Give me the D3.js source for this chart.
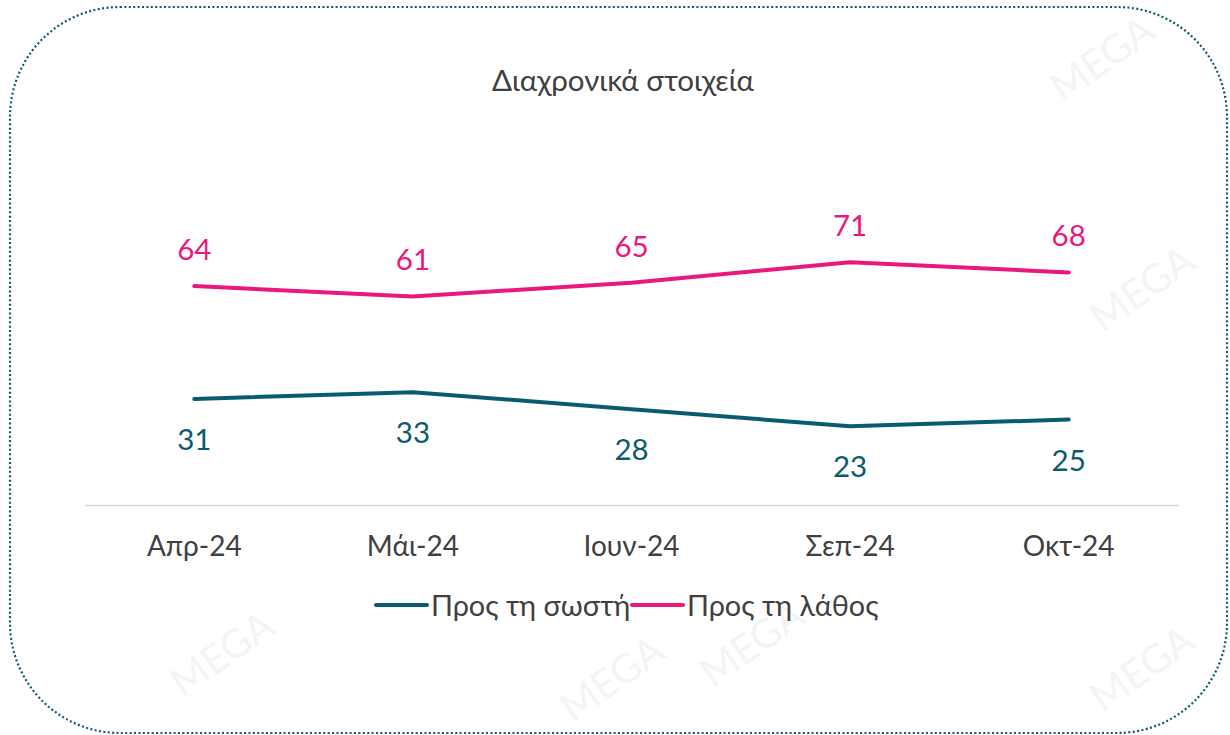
<!DOCTYPE html>
<html><head><meta charset="utf-8">
<script src="https://cdn.jsdelivr.net/npm/d3@7"></script>
<style>body{margin:0;background:#fff}svg{display:block}</style>
</head><body><svg id="c" width="1230" height="735"></svg>
<script>
const categories = ["Απρ-24","Μάι-24","Ιουν-24","Σεπ-24","Οκτ-24"];
const seriesNames = ["Προς τη σωστή","Προς τη λάθος"];
const correctValues = [31,33,28,23,25];
const wrongValues = [64,61,65,71,68];
const title = "Διαχρονικά στοιχεία";
const colors = ["#0B5B70","#E8187D"];

const svg = d3.select("#c");
const font = "Lato, 'Open Sans', sans-serif";

// faint watermarks
const wm = [[1110,70],[1150,300],[230,665],[620,690],[1150,680],[760,655]];
svg.append("g").selectAll("text").data(wm).join("text")
  .attr("transform", d=>`translate(${d[0]},${d[1]}) rotate(-35)`)
  .attr("text-anchor","middle").attr("font-family",font).attr("font-size",40)
  .attr("fill","#000").attr("opacity",0.04).text("MEGA");

// border
svg.append("rect").attr("x",10).attr("y",7).attr("width",1217).attr("height",726)
  .attr("rx",110).attr("ry",110).attr("fill","none")
  .attr("stroke","#0B5B70").attr("stroke-width",2.2).attr("stroke-dasharray","2,2.4");

const x = d3.scaleBand().domain(categories).range([85,1178]);
const y = d3.scaleLinear().domain([0,100]).range([505,163]);
const cx = d => x(d) + x.bandwidth()/2;

// axis
const ax = svg.append("g").attr("transform","translate(0,505)")
  .call(d3.axisBottom(x).tickSize(0).tickPadding(31));
ax.select(".domain").attr("stroke","#D9D9D9").attr("stroke-width",1.5);
ax.selectAll("text").attr("font-family",font).attr("font-size",28).attr("fill","#404040");

// title
svg.append("text").attr("x",623).attr("y",91).attr("text-anchor","middle")
  .attr("font-family",font).attr("font-size",29.5).attr("fill","#404040").text(title);

const series = [correctValues, wrongValues];
const line = d3.line().x((d,i)=>cx(categories[i])).y(d=>y(d));
series.forEach((vals,si)=>{
  svg.append("path").datum(vals).attr("d",line).attr("fill","none")
    .attr("stroke",colors[si]).attr("stroke-width",4).attr("stroke-linecap","round").attr("stroke-linejoin","round");
  svg.append("g").selectAll("text").data(vals).join("text")
    .attr("x",(d,i)=>cx(categories[i]))
    .attr("y",d=> si===0 ? y(d)+51 : y(d)-26)
    .attr("text-anchor","middle").attr("font-family",font).attr("font-size",29.5)
    .attr("fill",colors[si]).text(d=>d);
});

// legend
const leg = [[376,431],[632,687]];
seriesNames.forEach((n,i)=>{
  svg.append("line").attr("x1",leg[i][0]).attr("x2",leg[i][0]+51).attr("y1",605).attr("y2",605)
    .attr("stroke",colors[i]).attr("stroke-width",4).attr("stroke-linecap","round");
  svg.append("text").attr("x",leg[i][1]).attr("y",616).attr("font-family",font).attr("font-size",28.8)
    .attr("fill","#404040").text(n);
});
</script></body></html>
